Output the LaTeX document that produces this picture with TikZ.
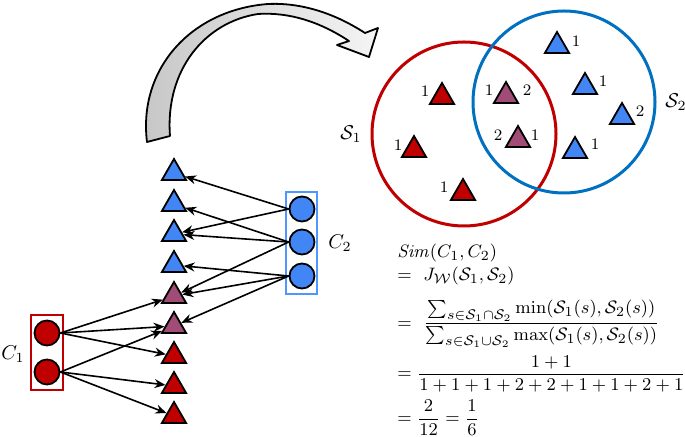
\documentclass[tikz,border=0pt]{standalone}
\usepackage{amsmath}
\usetikzlibrary{shapes.geometric,arrows.meta}
\definecolor{triblue}{RGB}{66,133,244}
\definecolor{trired}{RGB}{192,0,0}
\definecolor{tripurple}{RGB}{160,76,118}
\definecolor{vennblue}{RGB}{0,112,192}
\definecolor{boxblue}{RGB}{80,150,255}
\begin{document}
\begin{tikzpicture}[x=0.5pt,y=-0.5pt,
  tri/.style={regular polygon, regular polygon sides=3, draw=black, line width=0.9pt, minimum size=14pt, inner sep=0pt},
  tb/.style={tri, fill=triblue},
  tr/.style={tri, fill=trired},
  tp/.style={tri, fill=tripurple},
  dot/.style={circle, draw=black, line width=0.9pt, minimum size=12.5pt, inner sep=0pt},
  edge/.style={line width=0.8pt, -{Stealth[length=5.5pt,width=4.5pt]}},
  num/.style={font=\fontsize{8}{9}\selectfont, inner sep=0pt},
  eq/.style={anchor=west, inner sep=0pt, font=\fontsize{9.3}{11}\selectfont}]
\useasboundingbox (0,0) rectangle (685,437);

% curved block arrow
\shadedraw[left color=gray!45, right color=gray!8, line width=0.9pt, line join=round]
 (147,142) .. controls (138,70) and (190,10) .. (268,4) .. controls (310,2) and (345,20) .. (365,33)
 -- (378,28) -- (369,57) -- (337,45) -- (349,41)
 .. controls (320,22) and (290,12) .. (258,14) .. controls (205,22) and (165,70) .. (170,136) -- cycle;

% column of triangles
\node[tb] (t1) at (174,173) {};
\node[tb] (t2) at (174,204) {};
\node[tb] (t3) at (174,234) {};
\node[tb] (t4) at (174,265) {};
\node[tp] (t5) at (174,296) {};
\node[tp] (t6) at (174,326) {};
\node[tr] (t7) at (174,356) {};
\node[tr] (t8) at (174,386) {};
\node[tr] (t9) at (174,416) {};

% C2
\node[draw=boxblue, line width=1.3pt, minimum width=15.5pt, minimum height=51pt, inner sep=0pt] (box2) at (301.5,243) {};
\node[dot, fill=triblue] (b1) at (302,209) {};
\node[dot, fill=triblue] (b2) at (302,242) {};
\node[dot, fill=triblue] (b3) at (302,276) {};
\node (lc2) at (340,243) {$C_2$};

% C1
\node[draw=trired, line width=1.3pt, minimum width=16pt, minimum height=37.5pt, inner sep=0pt] (box1) at (47,352.5) {};
\node[dot, fill=trired] (r1) at (47,333) {};
\node[dot, fill=trired] (r2) at (47,372) {};
\node (lc1) at (13,354) {$C_1$};

% edges
\draw[edge] (b1.west) -- (t1);
\draw[edge] (b1.west) -- (t3);
\draw[edge] (b2.west) -- (t2);
\draw[edge] (b2.west) -- (t3);
\draw[edge] (b2.west) -- (t5);
\draw[edge] (b3.west) -- (t4);
\draw[edge] (b3.west) -- (t5);
\draw[edge] (b3.west) -- (t6);
\draw[edge] (r1.east) -- (t5);
\draw[edge] (r1.east) -- (t6);
\draw[edge] (r1.east) -- (t7);
\draw[edge] (r2.east) -- (t6);
\draw[edge] (r2.east) -- (t8);
\draw[edge] (r2.east) -- (t9);

% Venn
\draw[trired, line width=1.5pt] (464,134) circle[radius=92];
\draw[vennblue, line width=1.5pt] (564,102) circle[radius=91];
\node (s1) at (351,134) {$\mathcal{S}_1$};
\node (s2) at (676,102) {$\mathcal{S}_2$};

\node[tr] (v1) at (442,97) {};  \node[num] at (425,91) {1};
\node[tr] (v2) at (414,150) {}; \node[num] at (398,145) {1};
\node[tr] (v3) at (463,193) {}; \node[num] at (444,187) {1};
\node[tp] (v4) at (506,96) {};  \node[num] at (489,90) {1}; \node[num] at (527,90) {2};
\node[tp] (v5) at (518,140) {}; \node[num] at (498,135) {2}; \node[num] at (535,135) {1};
\node[tb] (v6) at (557,46) {};  \node[num] at (576,41) {1};
\node[tb] (v7) at (585,87) {};  \node[num] at (603,81) {1};
\node[tb] (v8) at (622,117) {}; \node[num] at (640,111) {2};
\node[tb] (v9) at (575,151) {}; \node[num] at (595,144) {1};

% formula
\node[eq] (f1) at (397,253) {$\mathit{Sim}(C_1,C_2)$};
\node[eq] (f2) at (397,276) {$=\ J_{\mathcal{W}}(\mathcal{S}_1,\mathcal{S}_2)$};
\node[eq] (f3) at (397,324) {$=\ \dfrac{\textstyle\sum_{s\in\mathcal{S}_1\cap\mathcal{S}_2}\min(\mathcal{S}_1(s),\mathcal{S}_2(s))}{\textstyle\sum_{s\in\mathcal{S}_1\cup\mathcal{S}_2}\max(\mathcal{S}_1(s),\mathcal{S}_2(s))}$};
\node[eq] (f4) at (397,374) {$=\dfrac{1+1}{1+1+1+2+2+1+1+2+1}$};
\node[eq] (f5) at (397,418) {$=\dfrac{2}{12}=\dfrac{1}{6}$};
\end{tikzpicture}
\end{document}
